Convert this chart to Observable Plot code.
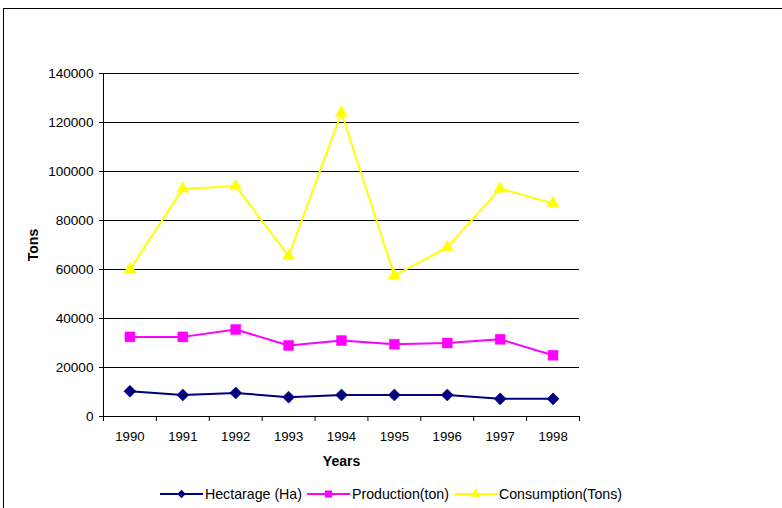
<!DOCTYPE html>
<html>
<head>
<meta charset="utf-8">
<script src="https://cdn.jsdelivr.net/npm/d3@7"></script>
<script src="https://cdn.jsdelivr.net/npm/@observablehq/plot@0.6"></script>
<style>
  html, body { margin: 0; padding: 0; background: #fff; overflow: hidden; }
  body { width: 782px; height: 508px; position: relative; font-family: "Liberation Sans", Arial, sans-serif; }
  #frame { position: absolute; left: 3px; top: 8px; width: 900px; height: 600px; border: 1px solid #000; box-sizing: border-box; pointer-events: none; }
  #chart { position: absolute; left: 0; top: 0; }
  #legend { position: absolute; left: 0; top: 486px; width: 782px; display: flex; justify-content: center; align-items: center; font-size: 14.2px; color: #000; }
  #legend .item { display: flex; align-items: center; margin: 0 2.5px; }
  #legend svg { margin-right: 2px; }
</style>
</head>
<body>
<div id="chart"></div>
<div id="legend"></div>
<div id="frame"></div>
<script>
// Annual figures, 1990–1998
const years = [1990, 1991, 1992, 1993, 1994, 1995, 1996, 1997, 1998];
const hectarage = [10300, 8800, 9600, 7900, 8800, 8800, 8800, 7200, 7200];
const production = [32500, 32500, 35500, 29000, 31000, 29500, 30000, 31500, 25000];
const consumption = [60000, 93000, 94000, 65500, 124000, 57500, 69000, 93000, 87000];
const yTicks = [0, 20000, 40000, 60000, 80000, 100000, 120000, 140000];

const series = [
  {name: "Hectarage (Ha)", color: "#000080", symbol: "square", rotate: 45, r: 4.8, lr: 3.4, values: hectarage},
  {name: "Production(ton)", color: "#FF00FF", symbol: "square", rotate: 0, r: 5.6, lr: 4.0, values: production},
  {name: "Consumption(Tons)", color: "#FFFF00", symbol: "triangle", rotate: 0, r: 4.5, lr: 3.6, values: consumption}
];

// Category boundaries for the x-axis tick marks
const boundaries = d3.range(years[0] - 0.5, years[years.length - 1] + 1, 1);

const marks = [
  Plot.gridY(yTicks.filter(d => d > 0), {stroke: "#000", strokeOpacity: 1, strokeWidth: 1}),
  Plot.ruleY([0], {stroke: "#000"}),
  Plot.ruleX([boundaries[0]], {stroke: "#000"}),
  Plot.axisY(yTicks, {tickSize: 4, tickPadding: 6, tickFormat: d => String(d), label: null, fontSize: 13.6}),
  Plot.axisX(boundaries, {tickSize: 5, tickFormat: () => "", label: null}),
  Plot.axisX(years, {tickSize: 0, tickPadding: 15, tickFormat: d => String(d), label: null, fontSize: 13.2})
];

for (const s of series) {
  const rows = years.map((yr, i) => ({year: yr, value: s.values[i]}));
  marks.push(Plot.line(rows, {x: "year", y: "value", stroke: s.color, strokeWidth: 2}));
  marks.push(Plot.dot(rows, {x: "year", y: "value", symbol: s.symbol, r: s.r, rotate: s.rotate, fill: s.color, stroke: s.color, strokeWidth: 0.5}));
}

marks.push(Plot.text(["Years"], {text: d => d, frameAnchor: "bottom", dy: 45, lineAnchor: "middle", textAnchor: "middle", fontWeight: "bold", fontSize: 14}));
marks.push(Plot.text(["Tons"], {text: d => d, frameAnchor: "left", dx: -70, rotate: -90, lineAnchor: "middle", textAnchor: "middle", fontWeight: "bold", fontSize: 14}));

const chart = Plot.plot({
  width: 782,
  height: 475,
  marginLeft: 103,
  marginRight: 203,
  marginTop: 73,
  marginBottom: 59,
  style: {fontFamily: "'Liberation Sans', Arial, sans-serif", fontSize: "13px", color: "#000", background: "transparent"},
  x: {domain: [boundaries[0], boundaries[boundaries.length - 1]], label: null, axis: null},
  y: {domain: [0, 140000], label: null, axis: null},
  marks
});
document.getElementById("chart").appendChild(chart);

// Legend: line swatch with marker, then the series name
const legend = d3.select("#legend");
const symbolTypes = {square: d3.symbolSquare, triangle: d3.symbolTriangle};
for (const s of series) {
  const item = legend.append("div").attr("class", "item");
  const sw = item.append("svg").attr("width", 43).attr("height", 14);
  sw.append("line").attr("x1", 0).attr("x2", 43).attr("y1", 7).attr("y2", 7)
    .attr("stroke", s.color).attr("stroke-width", 2);
  sw.append("path")
    .attr("d", d3.symbol(symbolTypes[s.symbol], Math.PI * s.lr * s.lr)())
    .attr("transform", `translate(21.5,7) rotate(${s.rotate})`)
    .attr("fill", s.color);
  item.append("span").text(s.name);
}
</script>
</body>
</html>
